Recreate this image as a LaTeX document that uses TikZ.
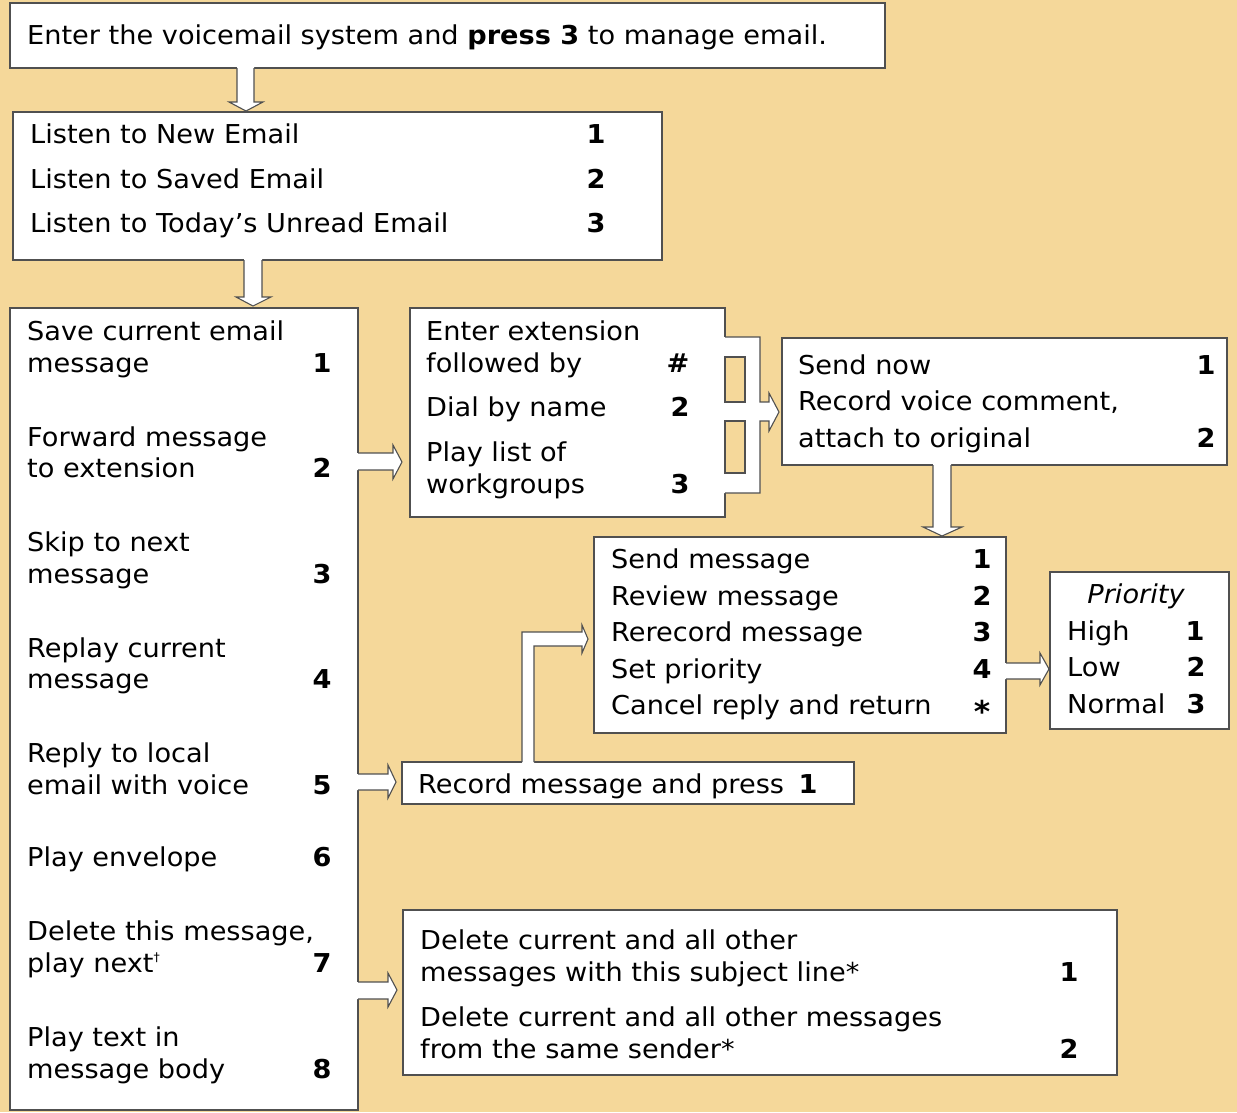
\documentclass[tikz,border=0pt]{standalone}
\usepackage{fontspec}
\setmainfont[FakeStretch=1.045]{DejaVu Sans}
\usetikzlibrary{fit}
\definecolor{bgtan}{RGB}{245,216,154}
\definecolor{bord}{RGB}{80,80,80}
\tikzset{
  box/.style={draw=bord, fill=white, line width=1.1pt, inner sep=0pt, outer sep=0pt},
  txt/.style={anchor=base west, inner sep=0pt, font=\fontsize{26}{30}\selectfont},
  num/.style={anchor=base, inner sep=0pt, font=\fontsize{26}{30}\selectfont\bfseries},
  afill/.style={fill=white, draw=none},
  aline/.style={draw=bord, line width=1.1pt, line join=miter},
}
\begin{document}
\begin{tikzpicture}[x=1pt,y=-1pt]
\fill[bgtan] (0,0) rectangle (1237,1112);
\useasboundingbox (0,0) rectangle (1237,1112);

% boxes
\node[box, fit={(10,3) (885,68)}] (b1) {};
\node[box, fit={(13,112) (662,260)}] (b2) {};
\node[box, fit={(10,308) (358,1110)}] (b3) {};
\node[box, fit={(410,308) (725,517)}] (b4) {};
\node[box, fit={(782,338) (1227,465)}] (b5) {};
\node[box, fit={(594,537) (1006,733)}] (b6) {};
\node[box, fit={(1050,572) (1229,729)}] (b7) {};
\node[box, fit={(402,762) (854,804)}] (b8) {};
\node[box, fit={(403,910) (1117,1075)}] (b9) {};

% arrow b1 -> b2
\path[afill] (237,66) -- (237,102) -- (229,102) -- (246,111) -- (263,102) -- (254,102) -- (254,66) -- cycle;
\draw[aline] (237,68) -- (237,102) -- (229,102) -- (246,111) -- (263,102) -- (254,102) -- (254,68);
% arrow b2 -> b3
\path[afill] (244,258) -- (244,297) -- (236,297) -- (253,306) -- (271,297) -- (262,297) -- (262,258) -- cycle;
\draw[aline] (244,260) -- (244,297) -- (236,297) -- (253,306) -- (271,297) -- (262,297) -- (262,260);
% arrow b3 -> b4
\path[afill] (356,453) -- (393,453) -- (393,445) -- (402,462) -- (393,479) -- (393,470) -- (356,470) -- cycle;
\draw[aline] (358,453) -- (393,453) -- (393,445) -- (402,462) -- (393,479) -- (393,470) -- (358,470);
% arrow b3 -> b8
\path[afill] (356,774) -- (388,774) -- (388,765) -- (396,782) -- (388,798) -- (388,790) -- (356,790) -- cycle;
\draw[aline] (358,774) -- (388,774) -- (388,765) -- (396,782) -- (388,798) -- (388,790) -- (358,790);
% arrow b3 -> b9
\path[afill] (356,982) -- (388,982) -- (388,973) -- (397,990) -- (388,1007) -- (388,999) -- (356,999) -- cycle;
\draw[aline] (358,982) -- (388,982) -- (388,973) -- (397,990) -- (388,1007) -- (388,999) -- (358,999);
% arrow b5 -> b6
\path[afill] (933,463) -- (933,527) -- (923,527) -- (942,536) -- (962,527) -- (951,527) -- (951,463) -- cycle;
\draw[aline] (933,465) -- (933,527) -- (923,527) -- (942,536) -- (962,527) -- (951,527) -- (951,465);
% arrow b6 -> b7
\path[afill] (1004,663) -- (1040,663) -- (1040,653) -- (1049,669) -- (1040,685) -- (1040,679) -- (1004,679) -- cycle;
\draw[aline] (1006,663) -- (1040,663) -- (1040,653) -- (1049,669) -- (1040,685) -- (1040,679) -- (1006,679);
% elbow arrow b8 -> b6
\path[afill] (522,764) -- (522,632) -- (582,632) -- (582,625) -- (588,639) -- (582,653) -- (582,646) -- (534,646) -- (534,764) -- cycle;
\draw[aline] (522,762) -- (522,632) -- (582,632) -- (582,625) -- (588,639) -- (582,653) -- (582,646) -- (534,646) -- (534,762);
% bracket arrow b4 -> b5
\path[afill, even odd rule] (723,337) -- (760,337) -- (760,402) -- (769,402) -- (769,393) -- (779,412) -- (769,431) -- (769,421) -- (760,421) -- (760,493) -- (723,493) -- cycle
  (725,357) rectangle (745,402) (725,421) rectangle (745,473);
\draw[aline] (725,337) -- (760,337) -- (760,402) -- (769,402) -- (769,393) -- (779,412) -- (769,431) -- (769,421) -- (760,421) -- (760,493) -- (725,493);
\draw[aline] (725,357) rectangle (745,402);
\draw[aline] (725,421) rectangle (745,473);

% texts box 1
\node[txt] (t1) at (27,44) {Enter the voicemail system and \textbf{press 3} to manage email.};
% box 2
\node[txt] (t2a) at (30,143) {Listen to New Email};
\node[num] (n2a) at (596,143) {1};
\node[txt] (t2b) at (30,188) {Listen to Saved Email};
\node[num] (n2b) at (596,188) {2};
\node[txt] (t2c) at (30,232) {Listen to Today’s Unread Email};
\node[num] (n2c) at (596,232) {3};
% box 3
\node[txt] (t3a) at (27,340) {Save current email};
\node[txt] (t3b) at (27,372) {message};
\node[num] (n3a) at (322,372) {1};
\node[txt] (t3c) at (27,446) {Forward message};
\node[txt] (t3d) at (27,477) {to extension};
\node[num] (n3b) at (322,477) {2};
\node[txt] (t3e) at (27,551) {Skip to next};
\node[txt] (t3f) at (27,583) {message};
\node[num] (n3c) at (322,583) {3};
\node[txt] (t3g) at (27,657) {Replay current};
\node[txt] (t3h) at (27,688) {message};
\node[num] (n3d) at (322,688) {4};
\node[txt] (t3i) at (27,762) {Reply to local};
\node[txt] (t3j) at (27,794) {email with voice};
\node[num] (n3e) at (322,794) {5};
\node[txt] (t3k) at (27,866) {Play envelope};
\node[num] (n3f) at (322,866) {6};
\node[txt] (t3l) at (27,940) {Delete this message,};
\node[txt] (t3m) at (27,972) {play next\raisebox{0.75ex}{\fontsize{12}{12}\selectfont †}};
\node[num] (n3g) at (322,972) {7};
\node[txt] (t3n) at (27,1046) {Play text in};
\node[txt] (t3o) at (27,1078) {message body};
\node[num] (n3h) at (322,1078) {8};
% box 4
\node[txt] (t4a) at (426,340) {Enter extension};
\node[txt] (t4b) at (426,372) {followed by};
\node[num] (n4a) at (678,372) {\#};
\node[txt] (t4c) at (426,416) {Dial by name};
\node[num] (n4b) at (680,416) {2};
\node[txt] (t4d) at (426,461) {Play list of};
\node[txt] (t4e) at (426,493) {workgroups};
\node[num] (n4c) at (680,493) {3};
% box 5
\node[txt] (t5a) at (798,374) {Send now};
\node[num] (n5a) at (1206,374) {1};
\node[txt] (t5b) at (798,410) {Record voice comment,};
\node[txt] (t5c) at (798,447) {attach to original};
\node[num] (n5b) at (1206,447) {2};
% box 6
\node[txt] (t6a) at (611,568) {Send message};
\node[num] (n6a) at (982,568) {1};
\node[txt] (t6b) at (611,605) {Review message};
\node[num] (n6b) at (982,605) {2};
\node[txt] (t6c) at (611,641) {Rerecord message};
\node[num] (n6c) at (982,641) {3};
\node[txt] (t6d) at (611,678) {Set priority};
\node[num] (n6d) at (982,678) {4};
\node[txt] (t6e) at (611,714) {Cancel reply and return};
\node[num, font=\fontsize{30}{30}\selectfont\bfseries] (n6e) at (982,722) {*};
% box 7
\node[txt, anchor=base] (t7a) at (1136,603) {\itshape Priority};
\node[txt] (t7b) at (1067,640) {High};
\node[num] (n7a) at (1195,640) {1};
\node[txt] (t7c) at (1067,676) {Low};
\node[num] (n7b) at (1196,676) {2};
\node[txt] (t7d) at (1067,713) {Normal};
\node[num] (n7c) at (1196,713) {3};
% box 8
\node[txt] (t8a) at (418,793) {Record message and press};
\node[num] (n8a) at (808,793) {1};
% box 9
\node[txt] (t9a) at (420,949) {Delete current and all other};
\node[txt] (t9b) at (420,981) {messages with this subject line*};
\node[num] (n9a) at (1069,981) {1};
\node[txt] (t9c) at (420,1026) {Delete current and all other messages};
\node[txt] (t9d) at (420,1058) {from the same sender*};
\node[num] (n9b) at (1069,1058) {2};
\end{tikzpicture}
\end{document}
